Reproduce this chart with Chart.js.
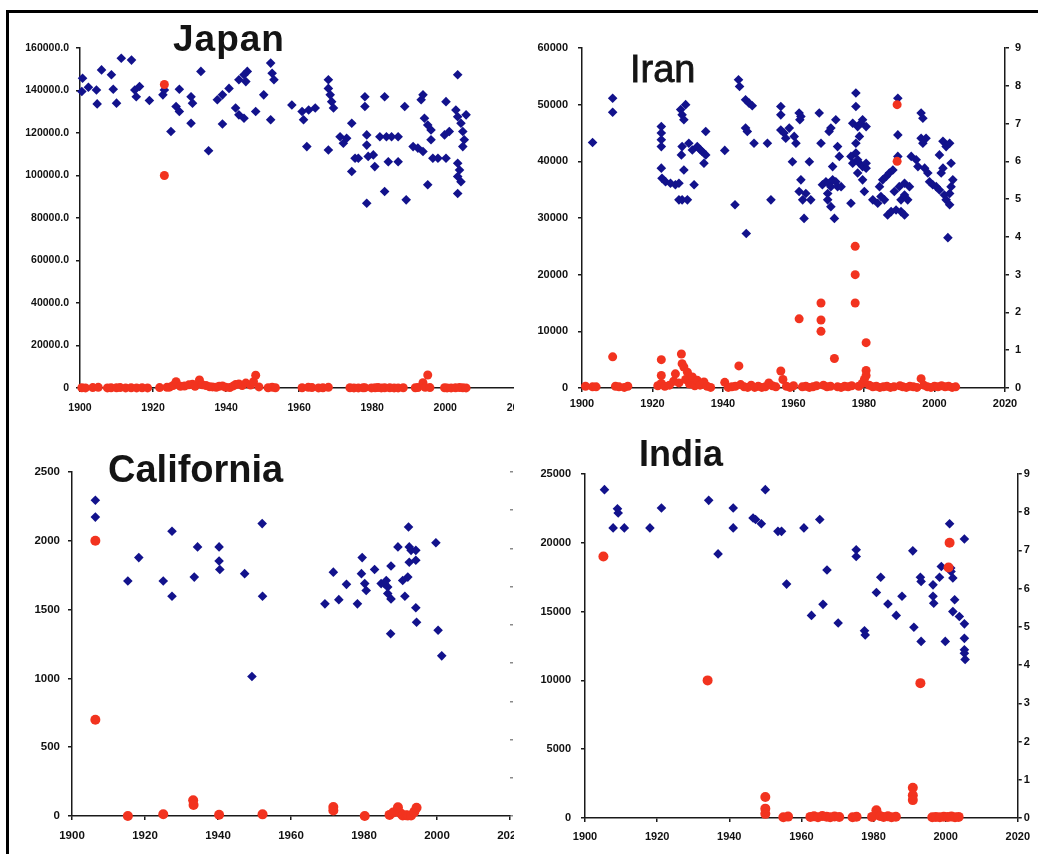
<!DOCTYPE html>
<html><head><meta charset="utf-8">
<script src="https://cdn.jsdelivr.net/npm/chart.js@4.4.0/dist/chart.umd.min.js"></script>
<style>
html,body{margin:0;padding:0;background:#fff;}
body{width:1038px;height:854px;position:relative;overflow:hidden;font-family:"Liberation Sans",Arial,sans-serif;}
.panel{position:absolute;overflow:hidden;}
.panel canvas{position:absolute;left:0;top:0;}
.title{position:absolute;line-height:1;color:#141414;white-space:nowrap;font-family:"Liberation Sans",Arial,sans-serif;}
.frame-top{position:absolute;left:6px;top:10px;width:1032px;height:3px;background:#000;}
.frame-left{position:absolute;left:6px;top:10px;width:3px;height:844px;background:#000;}
</style></head>
<body>
<div class="frame-top"></div><div class="frame-left"></div>
<div class="panel" style="left:10px;top:14px;width:504px;height:404px"><canvas id="cJ" width="530" height="404"></canvas></div>
<div class="panel" style="left:518px;top:14px;width:520px;height:404px"><canvas id="cI" width="520" height="404"></canvas></div>
<div class="panel" style="left:10px;top:420px;width:504px;height:434px"><canvas id="cC" width="530" height="434"></canvas></div>
<div class="panel" style="left:518px;top:420px;width:520px;height:434px"><canvas id="cN" width="520" height="434"></canvas></div>
<div class="title" style="left:173px;top:20px;font-size:37px;font-weight:bold;letter-spacing:1px">Japan</div>
<div class="title" style="left:630px;top:50px;font-size:38px;-webkit-text-stroke:0.8px #141414">Iran</div>
<div class="title" style="left:108px;top:450px;font-size:38px;font-weight:bold">California</div>
<div class="title" style="left:639px;top:436px;font-size:36px;font-weight:bold">India</div>
<script>
const X_LABELS = ['1900','1920','1940','1960','1980','2000','2020'];
const MAG_LABELS = ['0','1','2','3','4','5','6','7','8','9'];
const JAPAN_Y_LABELS = ['0','20000.0','40000.0','60000.0','80000.0','100000.0','120000.0','140000.0','160000.0'];
const IRAN_Y_LABELS = ['0','10000','20000','30000','40000','50000','60000'];
const CAL_Y_LABELS = ['0','500','1000','1500','2000','2500'];
const INDIA_Y_LABELS = ['0','5000','10000','15000','20000','25000'];

// [year, magnitude]
const JAPAN_MAG = [[1900.7,8.20],[1900.5,7.85],[1902.3,7.96],[1904.5,7.89],[1904.7,7.52],[1905.9,8.42],[1908.6,8.29],[1909.1,7.91],[1910.0,7.54],[1911.3,8.73],[1914.1,8.68],[1915.0,7.89],[1915.4,7.71],[1916.3,7.98],[1919.0,7.61],[1922.7,7.76],[1923.1,7.89],[1924.9,6.79],[1927.2,7.91],[1926.3,7.45],[1927.2,7.32],[1930.4,7.71],[1930.8,7.54],[1930.4,7.01],[1933.1,8.38],[1935.2,6.28],[1937.6,7.63],[1939.0,7.76],[1939.0,6.99],[1940.8,7.93],[1942.6,7.41],[1943.5,7.23],[1944.9,7.14],[1943.5,8.16],[1944.9,8.29],[1945.4,8.11],[1945.8,8.38],[1948.1,7.32],[1950.3,7.76],[1952.2,8.60],[1952.6,8.33],[1953.1,8.16],[1952.2,7.10],[1958.0,7.49],[1960.8,7.32],[1961.2,7.10],[1962.6,7.36],[1964.4,7.41],[1962.1,6.39],[1968.0,6.30],[1968.0,8.16],[1968.0,7.93],[1968.5,7.76],[1968.9,7.58],[1969.4,7.41],[1971.2,6.65],[1972.1,6.48],[1973.0,6.61],[1974.4,7.01],[1974.4,5.73],[1975.3,6.08],[1976.2,6.08],[1978.0,7.71],[1978.0,7.45],[1978.5,6.70],[1978.5,6.43],[1978.9,6.13],[1978.5,4.89],[1980.3,6.17],[1980.7,5.86],[1982.1,6.65],[1983.4,7.71],[1983.4,5.20],[1983.9,6.65],[1984.4,5.99],[1985.3,6.65],[1987.1,6.65],[1987.1,5.99],[1988.9,7.45],[1989.3,4.98],[1991.2,6.39],[1992.5,6.35],[1993.4,7.63],[1993.9,7.76],[1994.3,7.14],[1995.2,6.96],[1996.1,6.83],[1996.1,6.57],[1993.9,6.26],[1995.2,5.38],[1996.6,6.08],[1998.0,6.08],[2000.2,6.08],[2000.2,7.58],[1999.8,6.70],[2001.1,6.79],[2003.4,8.29],[2002.9,7.36],[2003.4,7.18],[2004.3,7.01],[2004.8,6.79],[2005.2,6.57],[2004.8,6.39],[2003.4,5.95],[2003.9,5.77],[2003.4,5.60],[2004.3,5.46],[2003.4,5.15],[2005.7,7.23]];
// [year, deaths]
const JAPAN_DEATHS = [[1900.5,100],[1901.5,50],[1903.5,200],[1905.0,300],[1907.5,50],[1908.5,100],[1910.0,100],[1911.0,200],[1912.5,50],[1914.0,100],[1915.5,50],[1917.0,100],[1918.5,50],[1921.8,200],[1923.1,142800],[1923.1,100000],[1923.8,300],[1924.5,400],[1925.5,1200],[1926.3,3000],[1927.5,800],[1928.6,900],[1929.8,1500],[1930.8,1800],[1931.5,800],[1932.7,3800],[1933.5,1500],[1934.5,1200],[1935.5,600],[1936.3,500],[1937.3,300],[1938.1,800],[1939.0,1000],[1939.9,300],[1941.0,200],[1942.0,1000],[1942.6,1600],[1943.5,1900],[1944.4,1200],[1945.4,2300],[1946.7,1400],[1947.5,3000],[1948.1,6000],[1949.0,500],[1951.5,100],[1952.6,400],[1953.5,100],[1960.8,100],[1962.5,300],[1963.5,200],[1965.3,50],[1966.5,100],[1968.0,300],[1973.9,100],[1975.0,50],[1976.2,50],[1977.5,100],[1978.0,150],[1979.8,50],[1980.8,100],[1981.6,200],[1982.5,50],[1983.4,100],[1984.8,100],[1986.0,50],[1987.1,50],[1988.5,100],[1991.8,100],[1992.5,200],[1993.9,2500],[1994.5,300],[1995.2,6100],[1995.8,200],[1999.8,100],[2000.5,50],[2001.6,50],[2002.8,100],[2003.9,200],[2004.8,100],[2005.7,50]];

const IRAN_MAG = [[1903.0,6.50],[1908.7,7.67],[1908.7,7.30],[1922.5,6.92],[1922.5,6.75],[1922.5,6.57],[1922.5,6.39],[1922.5,5.82],[1922.7,5.55],[1923.7,5.46],[1925.1,5.42],[1926.5,5.38],[1927.5,5.42],[1927.5,4.98],[1928.4,4.98],[1929.9,4.98],[1928.0,7.37],[1928.4,7.23],[1928.9,7.10],[1929.4,7.50],[1928.2,6.17],[1928.4,6.39],[1928.9,5.77],[1930.3,6.48],[1931.3,6.30],[1932.7,6.39],[1933.6,6.30],[1934.1,6.26],[1935.1,6.17],[1934.6,5.95],[1931.8,5.38],[1935.1,6.79],[1940.5,6.29],[1943.4,4.85],[1944.4,8.16],[1944.7,7.98],[1946.4,6.88],[1946.9,6.79],[1946.4,7.63],[1947.4,7.54],[1948.3,7.47],[1946.6,4.09],[1948.8,6.48],[1952.6,6.48],[1953.6,4.98],[1956.4,7.45],[1956.4,7.23],[1956.4,6.83],[1957.3,6.75],[1957.8,6.61],[1958.8,6.88],[1960.2,6.66],[1960.7,6.48],[1959.7,5.99],[1961.6,7.28],[1962.1,7.19],[1961.8,7.10],[1962.1,5.51],[1961.6,5.20],[1962.6,4.98],[1963.5,5.15],[1963.0,4.49],[1964.5,5.99],[1964.9,4.98],[1967.3,7.28],[1967.8,6.48],[1968.2,5.38],[1969.2,5.46],[1970.1,5.42],[1970.6,5.33],[1971.1,5.51],[1972.0,5.46],[1972.5,5.33],[1969.7,5.15],[1969.7,4.98],[1970.6,4.80],[1971.6,4.49],[1970.1,6.79],[1970.6,6.88],[1972.0,7.10],[1971.1,5.86],[1972.5,6.39],[1973.0,6.13],[1973.5,5.33],[1976.3,4.89],[1976.8,7.01],[1977.7,7.45],[1977.7,7.81],[1978.2,6.92],[1978.7,6.66],[1979.1,7.01],[1979.6,7.10],[1980.6,6.92],[1976.3,6.13],[1976.8,5.95],[1977.7,6.22],[1978.2,6.04],[1978.7,5.95],[1979.6,5.86],[1980.6,5.95],[1978.2,5.69],[1977.7,6.48],[1979.6,5.51],[1980.1,5.20],[1980.6,5.82],[1982.5,4.98],[1983.9,4.89],[1984.8,5.07],[1985.8,4.98],[1984.4,5.33],[1985.3,5.51],[1986.3,5.60],[1987.2,5.69],[1988.2,5.77],[1986.7,4.58],[1987.7,4.67],[1989.1,4.71],[1990.5,4.67],[1991.5,4.58],[1988.6,5.20],[1990.0,5.33],[1991.5,5.42],[1992.9,5.33],[1989.6,7.67],[1989.6,6.70],[1989.6,6.13],[1990.5,4.98],[1991.5,5.11],[1992.4,4.98],[1993.4,6.13],[1994.8,6.04],[1995.3,5.86],[1996.2,7.28],[1996.7,7.14],[1996.2,6.61],[1996.7,6.48],[1997.6,6.61],[1997.2,5.82],[1998.1,5.69],[1998.6,5.46],[1999.5,5.38],[2000.5,5.33],[2001.4,5.24],[2001.9,5.69],[2002.4,5.82],[2001.4,6.17],[2002.4,6.53],[2003.3,6.39],[2004.3,6.48],[2002.8,5.11],[2003.3,4.98],[2004.3,5.15],[2004.7,5.33],[2005.2,5.51],[2004.3,4.85],[2003.8,3.98],[2004.7,5.95]];
const IRAN_DEATHS = [[1901.0,300],[1903.0,200],[1904.0,200],[1908.7,5500],[1909.5,300],[1910.5,200],[1912.0,100],[1913.0,300],[1921.5,400],[1922.5,5000],[1922.5,2200],[1922.5,800],[1923.5,300],[1924.8,500],[1926.0,1200],[1926.5,2500],[1927.5,900],[1928.2,6000],[1928.4,4300],[1928.9,3700],[1929.4,1500],[1929.9,2800],[1930.5,700],[1931.3,1950],[1932.0,400],[1932.7,1350],[1933.5,500],[1934.6,1060],[1935.5,300],[1936.5,100],[1940.5,1000],[1941.5,100],[1942.5,200],[1943.5,300],[1944.5,3900],[1945.0,600],[1946.0,200],[1947.0,100],[1948.0,500],[1949.0,100],[1950.0,300],[1951.0,100],[1952.0,200],[1953.0,900],[1954.0,400],[1955.0,200],[1956.4,3000],[1957.0,1500],[1958.0,300],[1959.0,100],[1960.0,400],[1961.6,12200],[1962.5,200],[1963.5,300],[1964.5,100],[1965.5,200],[1966.5,400],[1967.8,15000],[1967.8,12000],[1967.8,10000],[1968.5,500],[1969.5,200],[1970.5,300],[1971.6,5200],[1972.5,200],[1973.5,100],[1974.5,300],[1975.5,200],[1976.5,400],[1977.5,25000],[1977.5,20000],[1977.5,15000],[1978.5,300],[1979.5,800],[1980.1,1500],[1980.6,8000],[1980.6,3100],[1980.6,2200],[1981.5,500],[1982.5,200],[1983.5,300],[1984.5,100],[1985.5,200],[1986.5,300],[1987.5,100],[1988.5,200],[1989.4,50000],[1989.4,40000],[1990.2,400],[1991.0,200],[1992.0,100],[1993.0,300],[1994.0,200],[1995.0,100],[1996.2,1650],[1997.0,500],[1998.0,200],[1999.0,100],[2000.0,300],[2001.0,200],[2002.0,400],[2003.0,200],[2004.0,300],[2005.0,100],[2006.0,200]];

const CAL_MAG = [[1906.4,8.26],[1906.4,7.82],[1915.3,6.15],[1918.3,6.76],[1925.0,6.15],[1927.4,7.45],[1927.4,5.75],[1933.5,6.25],[1934.4,7.04],[1940.3,7.04],[1940.3,6.67],[1940.5,6.45],[1947.3,6.34],[1949.3,3.65],[1952.1,7.65],[1952.2,5.75],[1969.3,5.55],[1971.6,6.38],[1973.1,5.66],[1975.2,6.06],[1978.2,5.55],[1979.5,6.76],[1979.3,6.34],[1980.2,6.08],[1980.6,5.90],[1982.9,6.45],[1984.7,6.08],[1985.6,6.08],[1986.1,6.16],[1986.5,5.99],[1986.5,5.82],[1987.4,5.68],[1987.4,6.54],[1987.3,4.77],[1989.3,7.04],[1990.6,6.16],[1991.2,5.75],[1992.0,6.25],[1992.2,7.56],[1992.4,7.04],[1992.4,6.64],[1992.9,6.95],[1994.2,6.95],[1994.2,6.69],[1994.2,5.45],[1994.4,5.07],[1999.7,7.15],[2000.3,4.86],[2001.3,4.19]];
const CAL_DEATHS = [[1906.4,2000],[1906.4,700],[1915.3,0],[1925.0,13],[1933.2,115],[1933.3,80],[1940.3,9],[1952.2,12],[1971.6,65],[1971.6,40],[1980.2,0],[1987.0,8],[1988.0,25],[1989.3,63],[1990.0,20],[1990.6,3],[1991.5,5],[1992.0,3],[1992.9,3],[1993.8,30],[1994.4,60]];

const INDIA_MAG = [[1905.4,8.59],[1907.8,7.59],[1909.0,8.09],[1909.2,7.98],[1910.9,7.59],[1918.0,7.59],[1921.2,8.11],[1934.3,8.31],[1936.9,6.91],[1941.1,8.11],[1941.1,7.59],[1946.6,7.85],[1947.3,7.81],[1948.9,7.70],[1950.0,8.59],[1953.5,7.50],[1954.5,7.50],[1955.9,6.12],[1960.7,7.59],[1962.8,5.30],[1965.1,7.81],[1966.0,5.59],[1967.1,6.49],[1970.2,5.10],[1975.2,7.02],[1975.2,6.84],[1977.5,4.90],[1977.7,4.79],[1980.8,5.90],[1982.0,6.30],[1984.0,5.60],[1986.3,5.30],[1987.9,5.80],[1990.9,6.99],[1991.2,4.99],[1993.0,6.30],[1993.2,6.19],[1993.2,4.62],[1996.5,6.10],[1996.5,5.80],[1996.7,5.62],[1998.3,6.30],[1998.8,6.58],[1999.9,4.62],[2001.1,7.70],[2001.4,6.54],[2001.5,6.45],[2002.0,6.28],[2002.5,5.71],[2002.0,5.40],[2003.8,5.27],[2005.2,7.30],[2005.2,5.08],[2005.2,4.70],[2005.2,4.40],[2005.2,4.31],[2005.4,4.15]];
const INDIA_DEATHS = [[1905.1,19000],[1934.0,10000],[1950.0,1530],[1950.0,680],[1950.0,300],[1955.0,60],[1956.3,100],[1962.5,80],[1963.5,120],[1964.6,60],[1965.8,150],[1967.0,90],[1968.0,60],[1969.2,110],[1970.5,70],[1974.2,60],[1975.3,90],[1979.6,80],[1980.8,560],[1981.8,150],[1982.8,70],[1984.0,120],[1985.0,60],[1986.2,90],[1990.9,2200],[1990.9,1650],[1990.9,1300],[1993.0,9800],[1996.3,60],[1997.3,80],[1998.4,50],[1999.5,90],[2000.6,70],[2000.8,18200],[2001.1,20000],[2001.6,100],[2002.6,60],[2003.6,80]];

const pts = arr => arr.map(p => ({x:p[0], y:p[1]}));

function buildChart(id, o) {
  const font = {family:'"Liberation Sans", Arial, sans-serif', size:o.fs, weight:'bold'};
  const axisColor = '#1a1a1a';
  const scales = {
    x: {type:'linear', min:1900, max:2020,
      border:{display:true, color:axisColor, width:1.5},
      grid:{display:true, drawOnChartArea:false, drawTicks:true, tickLength:4, color:axisColor, lineWidth:1.5},
      ticks:{stepSize:20, autoSkip:false, maxRotation:0, padding:o.xPad, color:'#111', font:font,
        callback:v => X_LABELS[Math.round((v-1900)/20)]},
      afterFit:s => { s.height = o.xH; }},
    y: {type:'linear', position:'left', min:0, max:o.yMax,
      border:{display:true, color:axisColor, width:1.5},
      grid:{display:true, drawOnChartArea:false, drawTicks:true, tickLength:4, color:axisColor, lineWidth:1.5},
      ticks:{stepSize:o.yStep, autoSkip:false, padding:o.yPad, color:'#111', font:font,
        callback:v => o.yLabels[Math.round(v/o.yStep)]},
      afterFit:s => { s.width = o.leftW; }},
    y2: {type:'linear', position:'right', display:o.right !== 'none', min:0, max:9,
      border:{display:o.right === 'full', color:axisColor, width:1.5},
      grid:{display:true, drawOnChartArea:false, drawTicks:true, tickLength:o.right === 'full' ? 4 : 3,
        color:o.right === 'full' ? axisColor : '#8a8a8a', lineWidth:1.5},
      ticks:{stepSize:1, autoSkip:false, padding:o.rPad || 4, color:'#111', font:font,
        callback:v => MAG_LABELS[Math.round(v)]},
      afterFit:s => { s.width = o.rightW; }}
  };
  return new Chart(document.getElementById(id), {
    type:'scatter',
    data:{datasets:[
      {label:'Deaths', data:pts(o.red), yAxisID:'y', pointStyle:'circle', pointRadius:o.rr, pointHoverRadius:o.rr,
        backgroundColor:'#f2331f', borderColor:'#f2331f', borderWidth:0, clip:false},
      {label:'Magnitude', data:pts(o.blue), yAxisID:'y2', pointStyle:'rectRot', pointRadius:o.br, pointHoverRadius:o.br,
        backgroundColor:'#12128c', borderColor:'#12128c', borderWidth:0, clip:false}
    ]},
    options:{
      responsive:false, animation:false, devicePixelRatio:1,
      layout:{padding:{top:o.top, right:o.padR, bottom:0, left:0}},
      plugins:{legend:{display:false}, tooltip:{enabled:false}, title:{display:false}},
      scales:scales
    }
  });
}

buildChart('cJ', {red:JAPAN_DEATHS, blue:JAPAN_MAG, yMax:160000, yStep:20000, yLabels:JAPAN_Y_LABELS,
  top:34, padR:19, leftW:70, rightW:0, right:'none', xH:30, fs:10.5, xPad:10, yPad:7, rr:4.5, br:4.8});
buildChart('cI', {red:IRAN_DEATHS, blue:IRAN_MAG, yMax:60000, yStep:10000, yLabels:IRAN_Y_LABELS,
  top:34, padR:0, leftW:64, rightW:33, right:'full', xH:30, fs:11, xPad:5, yPad:10, rPad:6, rr:4.5, br:4.8});
buildChart('cC', {red:CAL_DEATHS, blue:CAL_MAG, yMax:2500, yStep:500, yLabels:CAL_Y_LABELS,
  top:52, padR:0, leftW:62, rightW:30, right:'ticks', xH:38, fs:11.5, xPad:9, yPad:8, rPad:12, rr:5, br:4.8});
buildChart('cN', {red:INDIA_DEATHS, blue:INDIA_MAG, yMax:25000, yStep:5000, yLabels:INDIA_Y_LABELS,
  top:54, padR:0, leftW:67, rightW:20, right:'full', xH:36, fs:11, xPad:8, yPad:10, rPad:2, rr:5, br:4.8});
</script>
</body></html>
